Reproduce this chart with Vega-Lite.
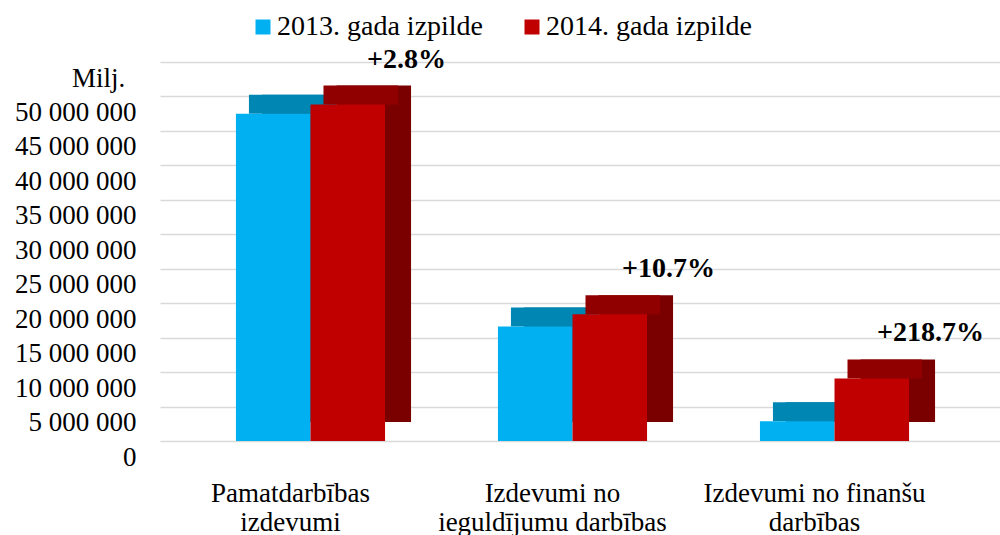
{
  "$schema": "https://vega.github.io/schema/vega-lite/v6.json",
  "width": 840,
  "height": 379,
  "autosize": {"type": "none"},
  "padding": {"left": 160, "top": 62, "right": 0, "bottom": 94},
  "background": "white",
  "config": {
    "font": "Liberation Serif",
    "view": {"stroke": null}
  },
  "data": {
    "values": [
      {"category": "Pamatdarbības izdevumi", "series": "2013. gada izpilde", "value": 47500000, "change": ""},
      {"category": "Pamatdarbības izdevumi", "series": "2014. gada izpilde", "value": 48830000, "change": "+2.8%"},
      {"category": "Izdevumi no ieguldījumu darbības", "series": "2013. gada izpilde", "value": 16600000, "change": ""},
      {"category": "Izdevumi no ieguldījumu darbības", "series": "2014. gada izpilde", "value": 18380000, "change": "+10.7%"},
      {"category": "Izdevumi no finanšu darbības", "series": "2013. gada izpilde", "value": 2850000, "change": ""},
      {"category": "Izdevumi no finanšu darbības", "series": "2014. gada izpilde", "value": 9080000, "change": "+218.7%"}
    ]
  },
  "encoding": {
    "x": {
      "field": "category",
      "type": "nominal",
      "sort": null,
      "scale": {"paddingInner": 0.431, "paddingOuter": 0.3185, "align": 0.455},
      "axis": {
        "title": null,
        "domain": false,
        "ticks": false,
        "labelAngle": 0,
        "labelFontSize": 27,
        "labelColor": "#000000",
        "labelBaseline": "alphabetic",
        "labelPadding": 60,
        "labelLineHeight": 29,
        "labelOffset": -20,
        "labelLimit": 400,
        "labelExpr": "datum.value == 'Pamatdarbības izdevumi' ? ['Pamatdarbības', 'izdevumi'] : datum.value == 'Izdevumi no ieguldījumu darbības' ? ['Izdevumi no', 'ieguldījumu darbības'] : ['Izdevumi no finanšu', 'darbības']"
      }
    },
    "y": {
      "field": "value",
      "type": "quantitative",
      "scale": {"domain": [0, 55000000], "nice": false},
      "axis": {
        "values": [0, 5000000, 10000000, 15000000, 20000000, 25000000, 30000000, 35000000, 40000000, 45000000, 50000000, 55000000],
        "labelExpr": "datum.value > 50000000 ? '' : replace(format(datum.value, ','), regexp(',', 'g'), ' ')",
        "domain": false,
        "ticks": false,
        "grid": true,
        "gridColor": "#D9D9D9",
        "gridWidth": 1.5,
        "labelFontSize": 27,
        "labelColor": "#000000",
        "labelPadding": 24,
        "labelOffset": 16,
        "title": "Milj.",
        "titleAngle": 0,
        "titleFontSize": 27,
        "titleFontWeight": "normal",
        "titleColor": "#000000",
        "titleAlign": "center",
        "titleBaseline": "alphabetic",
        "titleX": -62,
        "titleY": 24
      }
    }
  },
  "layer": [
    {
      "mark": {"type": "bar", "yOffset": -19, "y2Offset": -19},
      "encoding": {
        "xOffset": {"field": "series", "type": "nominal", "scale": {"range": [26, 175.1], "paddingInner": 0, "paddingOuter": 0}},
        "color": {"field": "series", "type": "nominal", "scale": {"range": ["#0078A0", "#7A0000"]}, "legend": null}
      }
    },
    {
      "mark": {"type": "bar", "yOffset": -19, "y2Offset": 0},
      "encoding": {
        "xOffset": {"field": "series", "type": "nominal", "scale": {"range": [13, 162.1], "paddingInner": 0, "paddingOuter": 0}},
        "y2": {"field": "value"},
        "color": {"field": "series", "type": "nominal", "scale": {"range": ["#0086B2", "#900000"]}, "legend": null}
      }
    },
    {
      "mark": {"type": "bar"},
      "encoding": {
        "xOffset": {"field": "series", "type": "nominal", "scale": {"range": [0, 149.1], "paddingInner": 0, "paddingOuter": 0}},
        "color": {
          "field": "series",
          "type": "nominal",
          "scale": {"range": ["#00B0F0", "#C00000"]},
          "legend": {
            "title": null,
            "orient": "none",
            "direction": "horizontal",
            "legendX": 89,
            "legendY": -49,
            "symbolType": "square",
            "symbolSize": 225,
            "symbolStrokeWidth": 0,
            "labelFontSize": 28,
            "labelColor": "#000000",
            "labelOffset": 0,
            "columnPadding": 34,
            "labelLimit": 400,
            "padding": 0
          }
        }
      }
    },
    {
      "transform": [{"filter": "datum.change != ''"}],
      "mark": {"type": "text", "fontSize": 28, "fontWeight": "bold", "dx": 96, "dy": -45, "align": "center", "baseline": "middle", "color": "#000000"},
      "encoding": {
        "xOffset": {"field": "series", "type": "nominal", "scale": {"range": [0, 149.1], "paddingInner": 0, "paddingOuter": 0}},
        "text": {"field": "change"}
      }
    }
  ],
  "resolve": {"scale": {"color": "independent", "xOffset": "independent"}}
}
